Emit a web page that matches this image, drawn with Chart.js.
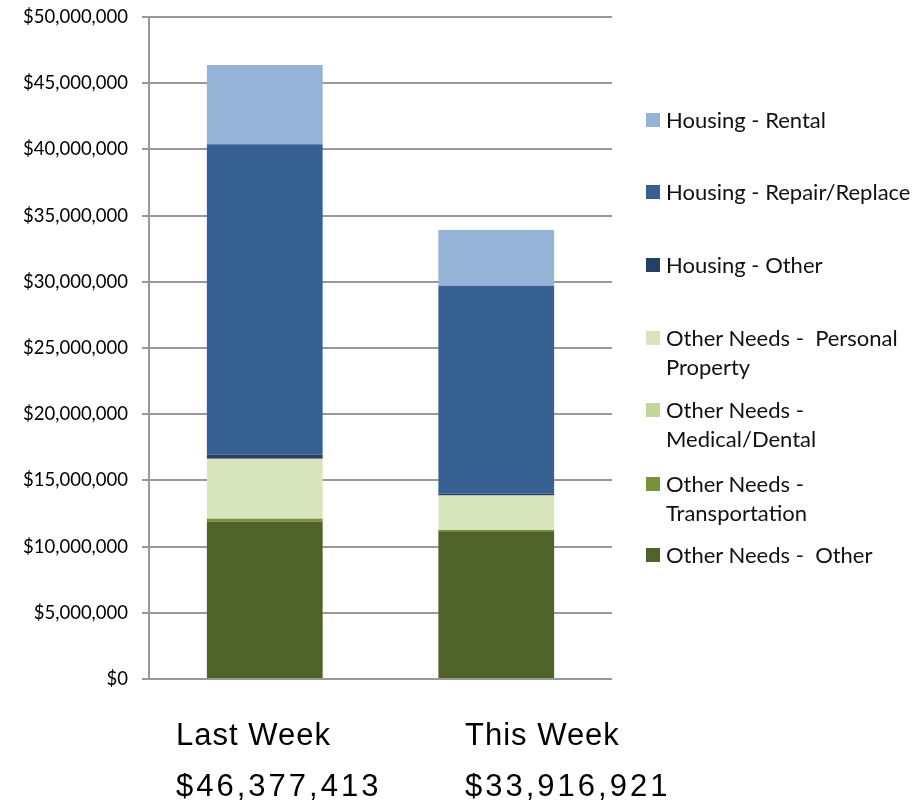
<!DOCTYPE html>
<html>
<head>
<meta charset="utf-8">
<script src="https://cdn.jsdelivr.net/npm/chart.js@4"></script>
<style>
  body { margin: 0; background: #fff; }
  #wrap { position: relative; width: 916px; height: 805px; }
  .lg { position: absolute; left: 646px; font-family: Lato, sans-serif; font-size: 22px; line-height: 29px; color: #111; }
  .lg span.sw { position: absolute; left: 0; top: 8px; width: 14px; height: 14px; }
  .lg div { margin-left: 20px; white-space: nowrap; }
  .cat { position: absolute; font-family: "Liberation Sans", Arial, sans-serif; font-size: 31px; line-height: 31px; letter-spacing: 1px; color: #000; white-space: nowrap; }
  .cat.total { letter-spacing: 3px; }
</style>
</head>
<body>
<div id="wrap">
  <canvas id="fundChart" width="916" height="805"></canvas>
</div>
<script>
// categories / labels
var weeks = ['Last Week', 'This Week'];
var weekTotals = ['$46,377,413', '$33,916,921'];

// series values, bottom of stack first
var seriesNames = [
    'Other Needs -  Other',
    'Other Needs - Transportation',
    'Other Needs - Medical/Dental',
    'Other Needs -  Personal Property',
    'Housing - Other',
    'Housing - Repair/Replace',
    'Housing - Rental'
];
var otherNeedsOther = [11870000, 11160000];
var transportation = [230000, 100000];
var medicalDental = [40000, 30000];
var personalProperty = [4490000, 2570000];
var housingOther = [300000, 150000];
var repairReplace = [23450000, 15690000];
var rental = [5997413, 4216921];

var seriesColors = ['#4F6228', '#76933C', '#C4D79B', '#D8E4BC', '#244062', '#366092', '#95B3D7'];

// legend lines, top to bottom (as shown)
var legendLines = [
    ['Housing - Rental'],
    ['Housing - Repair/Replace'],
    ['Housing - Other'],
    ['Other Needs -  Personal', 'Property'],
    ['Other Needs -', 'Medical/Dental'],
    ['Other Needs -', 'Transportation'],
    ['Other Needs -  Other']
];
var legendTops = [105, 177, 250, 323, 395, 469, 540];

var yTicks = { min: 0, max: 50000000, step: 5000000 };

document.addEventListener('DOMContentLoaded', function() {
    var allSeries = [otherNeedsOther, transportation, medicalDental, personalProperty, housingOther, repairReplace, rental];

    var datasets = allSeries.map(function(vals, i) {
        return {
            label: seriesNames[i],
            data: vals,
            backgroundColor: seriesColors[i],
            borderWidth: 0
        };
    });

    const ctx = document.getElementById('fundChart').getContext('2d');
    new Chart(ctx, {
        type: 'bar',
        data: { labels: weeks, datasets: datasets },
        options: {
            responsive: false,
            animation: false,
            layout: { padding: { left: 0, right: 304, top: 17, bottom: 0 } },
            plugins: { legend: { display: false }, tooltip: { enabled: false } },
            datasets: { bar: { categoryPercentage: 1, barPercentage: 0.5 } },
            scales: {
                x: {
                    stacked: true,
                    ticks: { display: false },
                    grid: { display: false },
                    border: { display: false },
                    afterFit: function(scale) { scale.height = 126; }
                },
                y: {
                    stacked: true,
                    min: yTicks.min,
                    max: yTicks.max,
                    ticks: {
                        stepSize: yTicks.step,
                        padding: 14,
                        color: '#000',
                        font: { family: 'Lato', size: 18.5 },
                        callback: function(v) { return '$' + v.toLocaleString('en-US'); }
                    },
                    grid: { color: '#999', lineWidth: 2, tickLength: 7 },
                    border: { color: '#999', width: 2 },
                    afterFit: function(scale) {
                        scale.width = 149;
                        scale.paddingTop = 0;
                        scale.paddingBottom = 0;
                    }
                }
            }
        }
    });

    // HTML legend on the right
    var wrap = document.getElementById('wrap');
    legendLines.forEach(function(lines, k) {
        var idx = seriesNames.length - 1 - k;
        var item = document.createElement('div');
        item.className = 'lg';
        item.style.top = legendTops[k] + 'px';
        item.innerHTML = '<span class="sw" style="background:' + seriesColors[idx] + '"></span>' +
            lines.map(function(t) { return '<div>' + t.replace(/  /g, ' &nbsp;') + '</div>'; }).join('');
        wrap.appendChild(item);
    });

    // week names and totals under the bars
    var catLeft = [176, 465];
    weeks.forEach(function(w, i) {
        var a = document.createElement('div');
        a.className = 'cat';
        a.style.left = catLeft[i] + 'px';
        a.style.top = '719px';
        a.textContent = w;
        wrap.appendChild(a);
        var b = document.createElement('div');
        b.className = 'cat total';
        b.style.left = catLeft[i] + 'px';
        b.style.top = '770px';
        b.textContent = weekTotals[i];
        wrap.appendChild(b);
    });
});
</script>
</body>
</html>
